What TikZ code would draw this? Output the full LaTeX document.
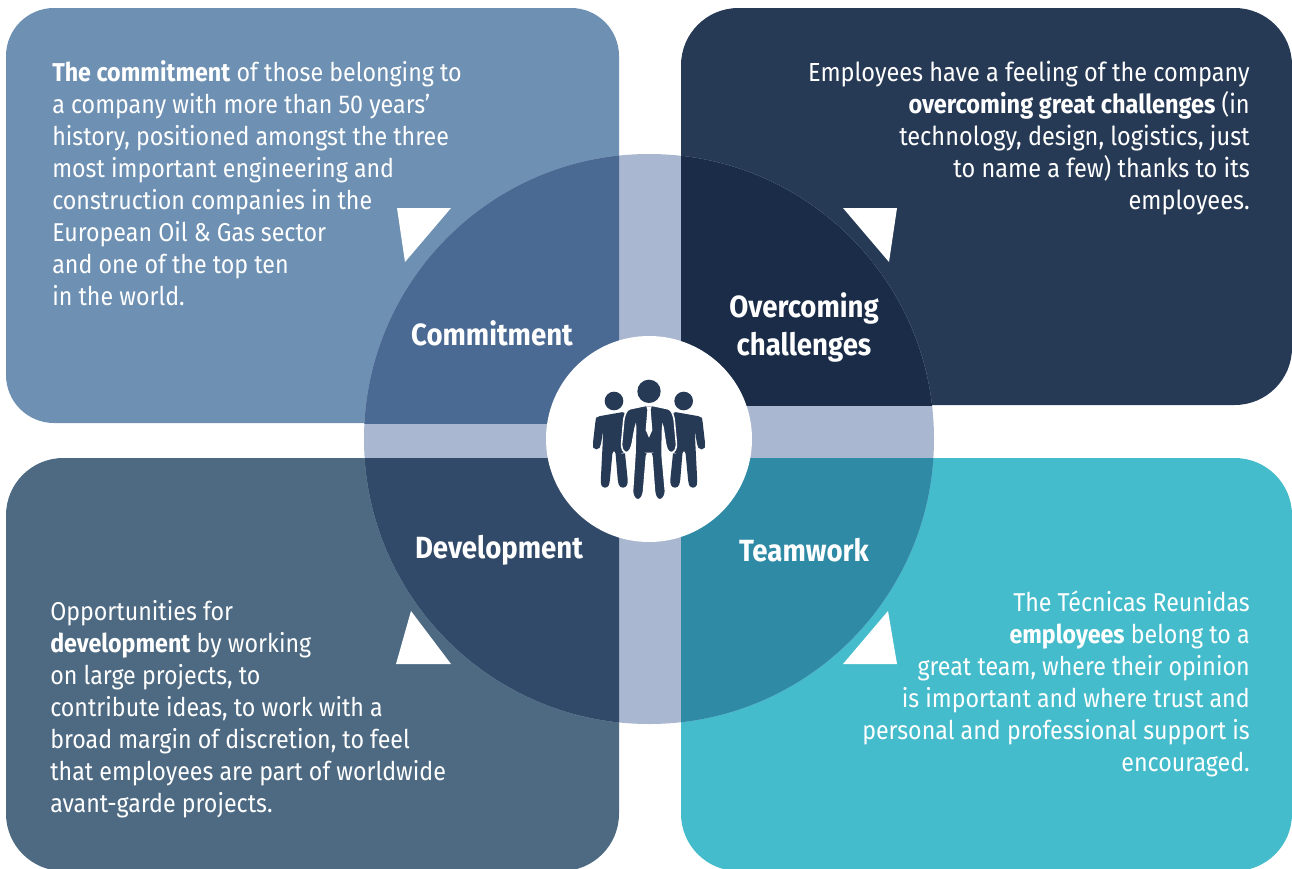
\documentclass[tikz,border=0pt]{standalone}
\usepackage{fontspec}
\setmainfont[FakeStretch=0.90]{Fira Sans}
\definecolor{boxTL}{HTML}{6D90B3}
\definecolor{boxTR}{HTML}{273A55}
\definecolor{boxBL}{HTML}{4D6A82}
\definecolor{boxBR}{HTML}{44BCCB}
\definecolor{cirTL}{HTML}{4A6A93}
\definecolor{cirTR}{HTML}{1A2C47}
\definecolor{cirBL}{HTML}{324A69}
\definecolor{cirBR}{HTML}{2E8AA5}
\definecolor{band}{HTML}{A9B8D0}
\definecolor{iconc}{HTML}{273A55}
\tikzset{
  x=0.75pt,y=-0.75pt,
  rndS/.style={rounded corners=36pt},
  rnd/.style={rounded corners=43pt},
  body/.style={text=white,inner sep=0pt,font=\fontsize{19.35}{24}\selectfont},
  bodyW/.style={text=white,inner sep=0pt,font=\fontsize{19.6}{24}\selectfont},
  head/.style={text=white,inner sep=0pt,font=\fontsize{23}{28.5}\selectfont\bfseries,align=center},
  tri/.style={fill=white,draw=none},
  man/.style={fill=iconc,draw=none,rounded corners=2.2pt},
}
\begin{document}
\begin{tikzpicture}
\useasboundingbox (0,0) rectangle (1292,868);
\clip (0,0) rectangle (1292,868);
\fill[boxTL,rndS] (6,8) rectangle (619,423);
\fill[boxTR,rnd] (681,8) rectangle (1292,405);
\fill[boxBL,rnd] (6,458) rectangle (619,871);
\fill[boxBR,rnd] (681,458) rectangle (1292,871);
\fill[band] (649,439) circle[radius=285];
\begin{scope}\clip (6,8) rectangle (619,423); \fill[cirTL] (649,439) circle[radius=285];\end{scope}
\begin{scope}\clip (681,8) rectangle (1292,405); \fill[cirTR] (649,439) circle[radius=285];\end{scope}
\begin{scope}\clip (6,458) rectangle (619,871); \fill[cirBL] (649,439) circle[radius=285];\end{scope}
\begin{scope}\clip (681,458) rectangle (1292,871); \fill[cirBR] (649,439) circle[radius=285];\end{scope}
\fill[white] (649,439) circle[radius=103];
% triangles
\fill[tri] (397,208) -- (451,208) -- (405,262) -- cycle;
\fill[tri] (897,208) -- (843,208) -- (889,262) -- cycle;
\fill[tri] (396,664) -- (451,664) -- (411,611) -- cycle;
\fill[tri] (897,664) -- (843,664) -- (888,611) -- cycle;
% icon
\begin{scope}[shift={(540,330)},x=0.25pt,y=-0.25pt]
 \fill[iconc] (222,213) circle[radius=28];
 \fill[iconc] (431,213) circle[radius=28];
 \fill[man] (170,260) -- (255,245) -- (255,370) -- (264,458) -- (258,473) -- (240,473) -- (234,458) -- (226,362) -- (218,362) -- (209,458) -- (204,473) -- (186,473) -- (182,458) -- (190,300) -- (182,347) -- (176,358) -- (162,358) -- (158,347) -- (167,268) -- cycle;
 \fill[man] (484,260) -- (399,245) -- (399,370) -- (390,458) -- (396,473) -- (414,473) -- (420,458) -- (428,362) -- (436,362) -- (445,458) -- (450,473) -- (468,473) -- (472,458) -- (464,300) -- (472,347) -- (478,358) -- (492,358) -- (496,347) -- (487,268) -- cycle;
 \fill[iconc] (327,184) circle[radius=35];
 \fill[man,draw=white,line width=1.2pt] (262,238) -- (318,226) -- (336,226) -- (392,238) -- (402,262) -- (410,350) -- (402,368) -- (386,368) -- (378,350) -- (368,285) -- (366,370) -- (377,492) -- (366,510) -- (352,510) -- (344,492) -- (335,370) -- (320,370) -- (310,492) -- (301,510) -- (287,510) -- (277,492) -- (285,370) -- (287,285) -- (275,350) -- (266,368) -- (252,368) -- (244,350) -- (252,262) -- cycle;
 \fill[white] (319,229) -- (335,229) -- (332,240) -- (337,300) -- (327,323) -- (317,300) -- (322,240) -- cycle;
\end{scope}
% headings
\node[head] (hc) at (492,333) {Commitment};
\node[head] (ho) at (804,327) {Overcoming\\challenges};
\node[head] (hd) at (499,550) {Development};
\node[head] (ht) at (804,550) {Teamwork};
% body
\node[body,anchor=north west,align=left] (tl) at (52,60) {\textbf{The commitment} of those belonging to\\a company with more than 50 years’\\history, positioned amongst the three\\most important engineering and\\construction companies in the\\European Oil \& Gas sector\\and one of the top ten\\in the world.};
\node[bodyW,anchor=north east,align=right] (tr) at (1250,61) {Employees have a feeling of the company\\\textbf{overcoming great challenges} (in\\technology, design, logistics, just\\to name a few) thanks to its\\employees.};
\node[body,anchor=north west,align=left] (bl) at (50,600) {Opportunities for\\\textbf{development} by working\\on large projects, to\\contribute ideas, to work with a\\broad margin of discretion, to feel\\that employees are part of worldwide\\avant-garde projects.};
\node[body,anchor=north east,align=right] (br) at (1250,591) {The Técnicas Reunidas\\\textbf{employees} belong to a\\great team, where their opinion\\is important and where trust and\\personal and professional support is\\encouraged.};
\end{tikzpicture}
\end{document}
